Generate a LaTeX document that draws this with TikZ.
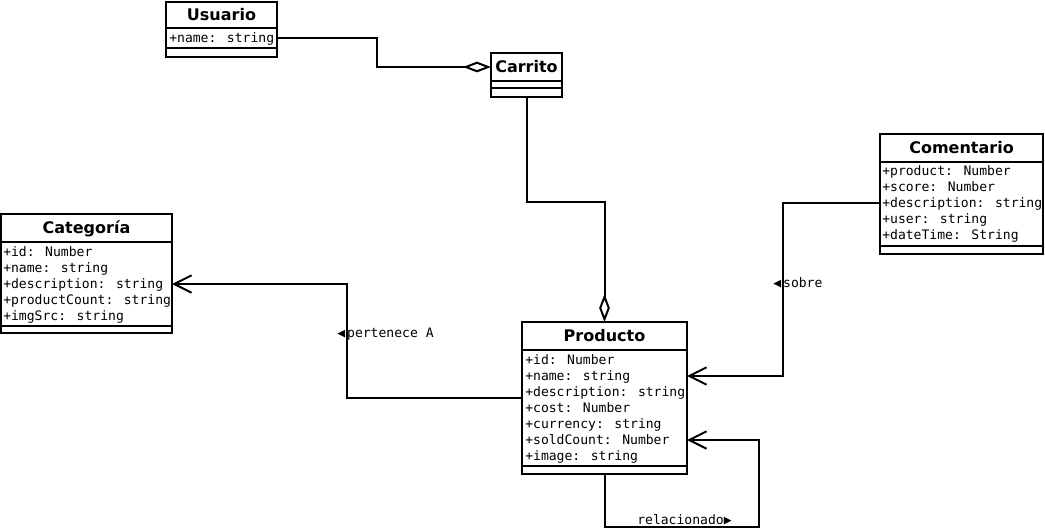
\documentclass[tikz,border=0pt]{standalone}
\usepackage{fontspec}
\setmainfont{DejaVu Sans}
\newfontfamily\monof{DejaVu Sans Mono}
\usetikzlibrary{arrows.meta}
\begin{document}
\begin{tikzpicture}[x=0.75pt,y=-0.75pt,
 box/.style={draw, line width=1.5pt, inner sep=0pt, outer sep=0pt, anchor=north west},
 ttl/.style={font=\fontsize{12}{14}\selectfont\bfseries, inner sep=0pt, text height=8.8pt, text depth=0.2pt},
 attr/.style={font=\monof\fontsize{9.8}{12}\selectfont, inner sep=0pt, anchor=west, text height=8.6pt, text depth=2pt},
 sepl/.style={line width=1.5pt},
 conn/.style={line width=1.5pt},
 agg/.style={conn, -{Diamond[open,length=21pt,width=8pt]}},
 assoc/.style={conn, -{Straight Barb[length=13pt,width=13pt]}},
 lbl/.style={font=\monof\fontsize{9.8}{12}\selectfont, inner sep=0pt, anchor=west, text height=8.6pt, text depth=2pt}]
\useasboundingbox (0,0) rectangle (1045,528);

% Usuario
\node[box, minimum width=83.25pt, minimum height=41.25pt] (usr) at (166,2) {};
\node[ttl] (usrt) at (221.5,15) {Usuario};
\draw[sepl] (usr.west |- 0,28) -- (usr.east |- 0,28);
\node[attr] (usrname) at (169,38) {+name: string};
\draw[sepl] (usr.west |- 0,48) -- (usr.east |- 0,48);

% Carrito
\node[box, minimum width=53.25pt, minimum height=33pt] (car) at (491,53) {};
\node[ttl] (cart) at (526.5,67) {Carrito};
\draw[sepl] (car.west |- 0,81) -- (car.east |- 0,81);
\draw[sepl] (car.west |- 0,88) -- (car.east |- 0,88);

% Categoria
\node[box, minimum width=128.25pt, minimum height=89.25pt] (cat) at (1,214) {};
\node[ttl] (catt) at (86.5,228) {Categoría};
\draw[sepl] (cat.west |- 0,242) -- (cat.east |- 0,242);
\node[attr] (cid) at (3,252) {+id: Number};
\node[attr] (cname) at (3,268) {+name: string};
\node[attr] (cdesc) at (3,284) {+description: string};
\node[attr] (ccount) at (3,300) {+productCount: string};
\node[attr] (cimg) at (3,316) {+imgSrc: string};
\draw[sepl] (cat.west |- 0,326) -- (cat.east |- 0,326);

% Comentario
\node[box, minimum width=122.25pt, minimum height=90pt] (com) at (880,134) {};
\node[ttl] (comt) at (961.5,148) {Comentario};
\draw[sepl] (com.west |- 0,162) -- (com.east |- 0,162);
\node[attr] (mprod) at (882,171) {+product: Number};
\node[attr] (mscore) at (882,187) {+score: Number};
\node[attr] (mdesc) at (882,203) {+description: string};
\node[attr] (muser) at (882,219) {+user: string};
\node[attr] (mdate) at (882,235) {+dateTime: String};
\draw[sepl] (com.west |- 0,246) -- (com.east |- 0,246);

% Producto
\node[box, minimum width=123.75pt, minimum height=114pt] (prod) at (522,322) {};
\node[ttl] (prodt) at (604.5,336) {Producto};
\draw[sepl] (prod.west |- 0,350) -- (prod.east |- 0,350);
\node[attr] (pid) at (525,360) {+id: Number};
\node[attr] (pname) at (525,376) {+name: string};
\node[attr] (pdesc) at (525,392) {+description: string};
\node[attr] (pcost) at (525,408) {+cost: Number};
\node[attr] (pcur) at (525,424) {+currency: string};
\node[attr] (psold) at (525,440) {+soldCount: Number};
\node[attr] (pimg) at (525,456) {+image: string};
\draw[sepl] (prod.west |- 0,466) -- (prod.east |- 0,466);

% connectors
\coordinate (k1) at (377,0);
\draw[agg] (usr.east |- usrname) -| (k1 |- cart) -- (car.west |- cart);

\coordinate (k2) at (0,202);
\draw[agg] (car.south) -- (car.south |- k2) -| (prod.north);

\coordinate (k3) at (347,0);
\draw[assoc] (prod.west) -| (k3 |- cdesc) -- (cat.east |- cdesc);
\node[lbl] (lpert) at (337,333) {◀\kern1.5pt pertenece A};

\coordinate (k4) at (783,0);
\draw[assoc] (com.west |- mdesc) -| (k4 |- pname) -- (prod.east |- pname);
\node[lbl] (lsob) at (773,283) {◀\kern1.5pt sobre};

\coordinate (k5) at (759,527);
\draw[assoc] (prod.south) -- (prod.south |- k5) -- (k5) -- (k5 |- psold) -- (prod.east |- psold);
\node[lbl] (lrel) at (637,520) {relacionado▶};
\end{tikzpicture}
\end{document}
